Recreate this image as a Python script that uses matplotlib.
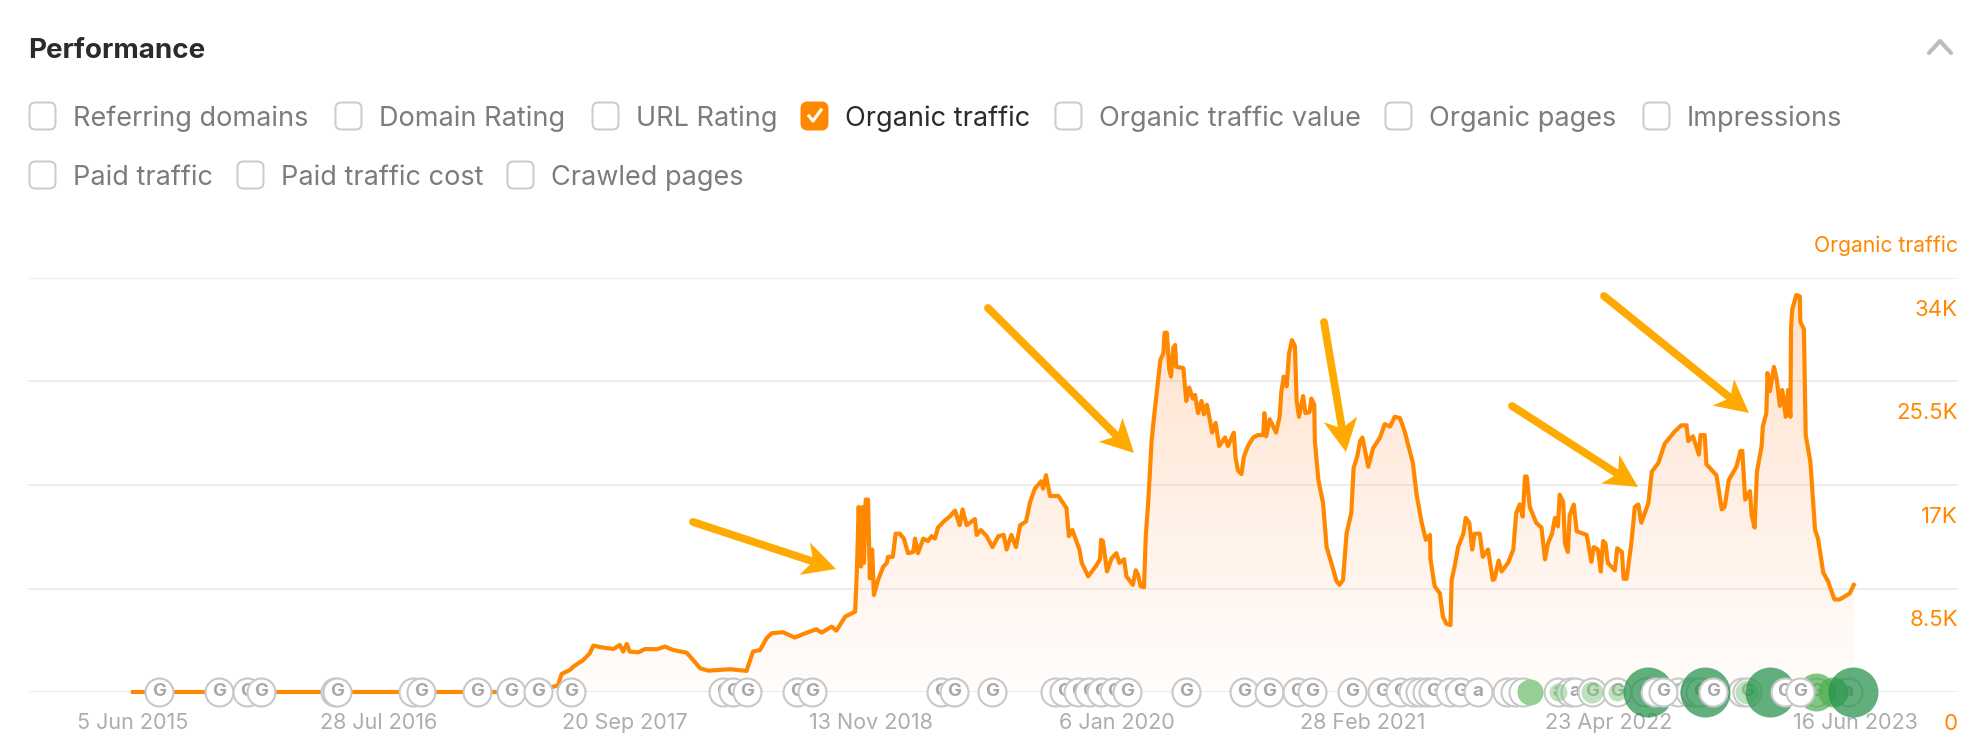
import matplotlib
matplotlib.use("Agg")
import matplotlib.pyplot as plt
from matplotlib.patches import FancyBboxPatch, Polygon
import numpy as np

plt.rcParams['font.family'] = ['Inter', 'DejaVu Sans']

# days since 5 Jun 2015 / organic traffic in thousands
traffic_days = [0, 700, 713, 724, 730, 744, 750, 767, 778, 784, 798, 818, 829, 835, 841, 846, 861, 872, 892, 906, 920,
                943, 954, 966, 980, 1017, 1045, 1056, 1068, 1079, 1088, 1107, 1127, 1142, 1164, 1173, 1190, 1198, 1213, 1230,
                1233, 1236, 1240, 1243, 1245, 1248, 1252, 1255, 1259, 1262, 1269, 1278, 1284, 1286, 1294, 1299, 1306, 1313,
                1320, 1329, 1332, 1337, 1346, 1354, 1360, 1366, 1371, 1383, 1391, 1400, 1408, 1413, 1420, 1434, 1437, 1444,
                1454, 1464, 1474, 1483, 1488, 1496, 1504, 1511, 1521, 1528, 1536, 1547, 1550, 1555, 1562, 1576, 1590, 1594,
                1600, 1612, 1616, 1627, 1641, 1647, 1649, 1652, 1659, 1667, 1675, 1680, 1688, 1692, 1703, 1708, 1712, 1716,
                1722, 1725, 1729, 1732, 1735, 1740, 1746, 1750, 1755, 1757, 1761, 1765, 1768, 1772, 1775, 1777, 1789, 1794,
                1799, 1805, 1809, 1814, 1820, 1824, 1829, 1834, 1838, 1844, 1850, 1860, 1865, 1875, 1878, 1882, 1888, 1892,
                1899, 1908, 1916, 1925, 1927, 1930, 1936, 1947, 1953, 1956, 1960, 1965, 1969, 1974, 1979, 1982, 1986, 1993,
                1997, 2004, 2007, 2012, 2013, 2019, 2027, 2033, 2041, 2050, 2055, 2061, 2067, 2075, 2079, 2085, 2090, 2094,
                2104, 2112, 2124, 2132, 2141, 2149, 2158, 2166, 2180, 2186, 2195, 2202, 2209, 2210, 2217, 2226, 2231, 2237,
                2244, 2246, 2251, 2257, 2266, 2270, 2276, 2281, 2285, 2294, 2299, 2308, 2316, 2319, 2326, 2331, 2342, 2351,
                2356, 2362, 2367, 2371, 2374, 2379, 2390, 2399, 2405, 2410, 2417, 2422, 2427, 2430, 2436, 2439, 2444, 2447,
                2454, 2459, 2470, 2476, 2484, 2488, 2495, 2500, 2504, 2508, 2512, 2524, 2528, 2536, 2539, 2544, 2552, 2558,
                2564, 2569, 2581, 2587, 2598, 2609, 2626, 2637, 2646, 2649, 2657, 2667, 2670, 2677, 2680, 2697, 2706, 2711,
                2718, 2731, 2738, 2741, 2746, 2754, 2757, 2762, 2766, 2774, 2776, 2782, 2784, 2788, 2795, 2800, 2805, 2809,
                2815, 2819, 2823, 2824, 2826, 2833, 2839, 2840, 2846, 2849, 2857, 2865, 2870, 2879, 2887, 2898, 2907, 2924, 2931]
traffic_k = [0, 0, 0.39, 0.55, 1.48, 1.81, 2.08, 2.63, 3.18, 3.81, 3.67, 3.53, 3.86, 3.32, 3.95, 3.32, 3.26, 3.53, 3.51, 3.73, 3.45,
             3.23, 2.63, 1.95, 1.75, 1.87, 1.73, 3.32, 3.45, 4.41, 4.83, 4.91, 4.47, 4.77, 5.15, 4.88, 5.37, 5.04, 6.19, 6.6,
             10.0, 15.2, 10.3, 15.2, 10.6, 15.8, 15.8, 9.34, 11.7, 7.97, 9.2, 10.3, 10.6, 11.1, 11.1, 13.0, 13.0, 12.6,
             11.4, 11.5, 12.6, 11.4, 12.6, 12.4, 12.8, 12.6, 13.5, 14.1, 14.4, 14.9, 13.7, 15.0, 13.7, 14.2, 12.9, 13.3,
             12.8, 11.9, 12.8, 12.9, 11.7, 12.9, 11.9, 13.7, 14.0, 15.6, 16.7, 17.3, 16.7, 17.8, 16.1, 16.1, 15.1, 12.8,
             13.3, 11.7, 10.6, 9.5, 10.4, 10.9, 12.5, 12.4, 9.9, 11.0, 11.4, 10.6, 10.9, 9.5, 8.8, 10.0, 9.6, 8.7,
             8.6, 12.8, 15.5, 18.0, 20.7, 23.0, 25.6, 27.3, 27.8, 29.5, 29.5, 26.5, 25.9, 28.3, 28.5, 26.7, 26.6, 23.9,
             25.0, 24.1, 24.4, 22.9, 23.9, 22.8, 23.6, 22.4, 21.3, 22.1, 20.2, 20.9, 20.2, 21.3, 19.2, 18.2, 17.9, 19.3,
             20.2, 20.9, 21.1, 21.1, 22.9, 21.0, 22.4, 21.3, 22.6, 24.7, 25.9, 25.1, 27.8, 28.9, 28.4, 23.9, 22.6, 24.3,
             22.9, 23.0, 24.1, 23.6, 20.6, 17.4, 15.5, 11.9, 10.6, 9.1, 8.8, 9.2, 13.0, 14.7, 18.4, 19.3, 20.6, 20.9,
             18.5, 20.0, 20.9, 22.0, 21.8, 22.6, 22.5, 21.4, 18.8, 16.3, 13.9, 12.5, 12.9, 10.9, 8.7, 8.1, 6.2, 5.6,
             5.5, 9.2, 10.3, 11.9, 13.0, 14.3, 13.9, 11.7, 13.0, 13.0, 11.1, 11.7, 9.2, 9.3, 10.8, 9.9, 10.6, 11.7,
             14.7, 15.4, 14.4, 17.7, 17.7, 15.2, 13.9, 13.5, 10.9, 12.2, 13.0, 14.3, 13.6, 16.2, 15.6, 12.2, 11.5, 14.5,
             15.4, 13.2, 13.0, 12.9, 10.7, 11.9, 11.7, 9.9, 12.4, 12.2, 10.6, 10.0, 11.8, 11.5, 9.3, 9.3, 12.2, 15.2,
             15.4, 13.9, 15.5, 18.1, 18.8, 20.4, 21.4, 21.9, 21.9, 20.6, 21.0, 19.5, 21.1, 21.1, 18.7, 17.8, 15.0, 15.2,
             17.4, 18.5, 19.8, 19.8, 15.8, 16.5, 14.5, 13.5, 18.1, 20.2, 21.8, 22.9, 26.2, 24.7, 26.7, 25.6, 23.5, 24.8,
             22.6, 24.8, 22.6, 29.8, 31.4, 32.6, 32.5, 30.4, 29.8, 21.1, 18.9, 13.3, 12.6, 9.8, 9.1, 7.6, 7.6, 8.1, 8.8]

x_tick_days = [0, 419, 838, 1257, 1676, 2095, 2514, 2933]
x_tick_labels = ['5 Jun 2015', '28 Jul 2016', '20 Sep 2017', '13 Nov 2018', '6 Jan 2020', '28 Feb 2021', '23 Apr 2022', '16 Jun 2023']
y_ticks_k = [0, 8.5, 17, 25.5, 34]
y_tick_labels = ['0', '8.5K', '17K', '25.5K', '34K']

# update markers along the baseline
event_days = [44, 146, 194, 218, 344, 347, 477, 490, 586, 644, 690, 746, 1005, 1022, 1046, 1131, 1156, 1376, 1398, 1463,
              1570, 1586, 1609, 1628, 1649, 1671, 1693, 1793, 1892, 1935, 1982, 2008, 2076, 2127, 2158, 2180, 2192, 2204,
              2214, 2243, 2260, 2291, 2340, 2354, 2367, 2427, 2447, 2456, 2485, 2527, 2575, 2631, 2652, 2660, 2669, 2740,
              2749, 2866, 2921]
a_event_days = [2291, 2427, 2456, 2921]
top_event_days = [2592, 2606, 2691, 2813, 2839]
green_days = [2380, 2427, 2485, 2527, 2580, 2677, 2749, 2788, 2866, 2895, 2929]
green_radius = [13, 9, 11, 9, 25, 25, 12, 25, 19, 15, 25]
green_alpha = [1, 0.5, 0.5, 0.5, 0.72, 0.72, 0.5, 0.72, 0.7, 0.7, 0.72]
green_colors = ['#94cf94', '#7cc47c', '#7cc47c', '#7cc47c', '#23914a', '#23914a', '#7cc47c', '#23914a', '#4fae4f', '#4fae4f', '#23914a']

row1 = [('Referring domains', 29), ('Domain Rating', 335), ('URL Rating', 592), ('Organic traffic', 801),
        ('Organic traffic value', 1055), ('Organic pages', 1385), ('Impressions', 1643)]
row2 = [('Paid traffic', 29), ('Paid traffic cost', 237), ('Crawled pages', 507)]

ORANGE = '#ff8800'
W, H = 1974, 756
fig = plt.figure(figsize=(W / 100, H / 100), dpi=100, facecolor='white')

left, right, top, bottom = 28, 1958, 278, 692
ax = fig.add_axes([left / W, 1 - bottom / H, (right - left) / W, (bottom - top) / H])
px_per_day = (1855 - 133) / 2933
ax.set_xlim(-(133 - left) / px_per_day, (right - 133) / px_per_day)
ax.set_ylim(0, 34)
for s in ax.spines.values():
    s.set_visible(False)
ax.set_yticks(y_ticks_k)
ax.set_yticklabels([])
ax.tick_params(axis='y', length=0)
ax.yaxis.grid(True, color='#ebebeb', lw=1.2, zorder=0)
ax.set_axisbelow(True)
ax.set_xticks(x_tick_days, x_tick_labels)
ax.tick_params(axis='x', length=0, pad=15, labelsize=15.5, labelcolor='#adadad')
for lab, tick in zip(y_tick_labels, y_ticks_k):
    ax.annotate(lab, xy=(1, tick), xycoords=('axes fraction', 'data'), xytext=(0, -23), textcoords='offset points',
                ha='right', va='center', fontsize=16, color=ORANGE)

# fill under the line, fading to the baseline
xlim = ax.get_xlim()
grad = np.zeros((256, 1, 4))
grad[..., 0], grad[..., 1], grad[..., 2] = 1.0, 0.5, 0.12
grad[:, 0, 3] = np.linspace(0.24, 0.015, 256)
img = ax.imshow(grad, extent=[0, 2933, 0, 34], aspect='auto', zorder=1, origin='upper')
poly = Polygon(np.column_stack([[0] + traffic_days + [traffic_days[-1]], [0] + traffic_k + [0]]),
               transform=ax.transData, fc='none', ec='none')
ax.add_patch(poly)
img.set_clip_path(poly)
ax.set_xlim(xlim)
ax.set_ylim(0, 34)
ax.plot(traffic_days, traffic_k, color=ORANGE, lw=3.0, solid_joinstyle='round', zorder=2, clip_on=False)


def draw_event(day, glyph, zorder):
    ax.scatter([day], [0], s=(2 * 14 * 0.72) ** 2, facecolor='white', edgecolor='#c8c8c8', linewidth=1.5,
               zorder=zorder, clip_on=False)
    ax.text(day, 0, glyph, ha='center', va='center', fontsize=13.5, fontweight='bold', color='#a8a8a8',
            zorder=zorder, clip_on=False)


for d in event_days:
    draw_event(d, 'a' if d in a_event_days else 'G', 3)
for d, r, a, c in zip(green_days, green_radius, green_alpha, green_colors):
    ax.scatter([d], [0], s=(2 * r * 0.72) ** 2, color=c, alpha=a, linewidth=0, zorder=4, clip_on=False)
for d in top_event_days:
    draw_event(d, 'G', 5)

# page furniture and the hand drawn arrows, in pixel coordinates
ui = fig.add_axes([0, 0, 1, 1], zorder=10)
ui.set_xlim(0, W)
ui.set_ylim(H, 0)
ui.axis('off')
ui.patch.set_alpha(0)

ui.text(28, 51, 'Performance', fontsize=20, fontweight='bold', color='#2b2b2b', va='center')
ui.plot([1929, 1940, 1951], [53, 41, 53], color='#bdbdbd', lw=3, solid_capstyle='round')


def checkbox(x, y, label):
    checked = label == 'Organic traffic'
    ui.add_patch(FancyBboxPatch((x + 4, y - 10), 19, 20, boxstyle='round,pad=3.5,rounding_size=6',
                                fc=ORANGE if checked else 'white', ec=ORANGE if checked else '#cacaca', lw=1.4))
    if checked:
        ui.plot([x + 8, x + 12, x + 20], [y, y + 5, y - 6], color='white', lw=2.3)
    ui.text(x + 44, y, label, fontsize=19.5, va='center_baseline', color='#2b2b2b' if checked else '#7c7c7c')


for label, x in row1:
    checkbox(x, 116, label)
for label, x in row2:
    checkbox(x, 175, label)
ui.text(1958, 246, 'Organic traffic', fontsize=15.2, color=ORANGE, ha='right', va='center')


def arrow(x0, y0, x1, y1):
    u = np.array([x1 - x0, y1 - y0], float)
    u /= np.hypot(*u)
    n = np.array([-u[1], u[0]])
    tip = np.array([x1, y1], float)
    notch = tip - 24 * u
    ui.plot([x0, notch[0]], [y0, notch[1]], color='#ffaa00', lw=5.6, solid_capstyle='round')
    ui.add_patch(Polygon([tip, tip - 33 * u + 17 * n, notch, tip - 33 * u - 17 * n], fc='#ffaa00', ec='none'))


arrow(693, 522, 836, 569)
arrow(988, 308, 1134, 453)
arrow(1324, 322, 1346, 452)
arrow(1512, 406, 1638, 487)
arrow(1604, 296, 1749, 413)

fig.savefig('out.png', dpi=100)
